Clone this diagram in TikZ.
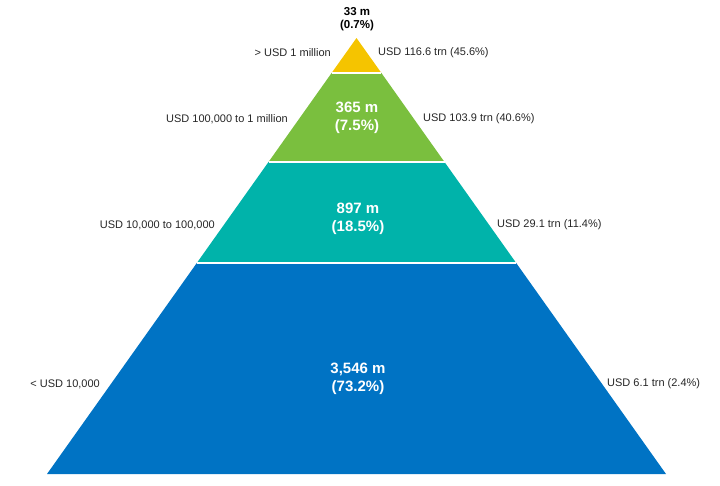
\documentclass[tikz,border=0pt]{standalone}
\usepackage{fontspec}
\setmainfont{Liberation Sans}
\definecolor{tierYellow}{HTML}{F5C400}
\definecolor{tierGreen}{HTML}{7ABF3E}
\definecolor{tierTeal}{HTML}{00B3AA}
\definecolor{tierBlue}{HTML}{0073C4}
\definecolor{labelGray}{HTML}{262626}
\begin{document}
\begin{tikzpicture}[x=1pt,y=-1pt,
  lbl/.style={font=\fontsize{11}{13}\selectfont, text=labelGray, inner sep=0pt},
  num/.style={font=\bfseries\fontsize{15}{18}\selectfont, text=white, align=center, inner sep=0pt},
  sep/.style={white, line width=1.2pt}]
\useasboundingbox (0,0) rectangle (720,485);
% pyramid corners
\coordinate (apex) at (356.5,38);
\coordinate (a1) at (331.6,73);  \coordinate (b1) at (381.4,73);
\coordinate (a2) at (268.5,162); \coordinate (b2) at (444.5,162);
\coordinate (a3) at (196.8,263); \coordinate (b3) at (516.2,263);
\coordinate (a4) at (47,474);    \coordinate (b4) at (666,474);
% tiers
\fill[tierYellow] (apex) -- (b1) -- (a1) -- cycle;
\fill[tierGreen] (a1) -- (b1) -- (b2) -- (a2) -- cycle;
\fill[tierTeal] (a2) -- (b2) -- (b3) -- (a3) -- cycle;
\fill[tierBlue] (a3) -- (b3) -- (b4) -- (a4) -- cycle;
\draw[sep] (a1) -- (b1);
\draw[sep] (a2) -- (b2);
\draw[sep] (a3) -- (b3);
% share of adults
\node[num, text=black, font=\bfseries\fontsize{11.5}{13.5}\selectfont] (n0) at (357,19) {33 m\\(0.7\%)};
\node[num] (n1) at (357,117.5) {365 m\\(7.5\%)};
\node[num] (n2) at (358,219) {897 m\\(18.5\%)};
\node[num] (n3) at (358,379) {3,546 m\\(73.2\%)};
% wealth ranges
\node[lbl, anchor=east] (l0) at (331,53) {> USD 1 million};
\node[lbl, anchor=east] (l1) at (288,119) {USD 100,000 to 1 million};
\node[lbl, anchor=east] (l2) at (215,225) {USD 10,000 to 100,000};
\node[lbl, anchor=east] (l3) at (100,384) {< USD 10,000};
% total wealth
\node[lbl, anchor=west] (r0) at (378,53) {USD 116.6 trn (45.6\%)};
\node[lbl, anchor=west] (r1) at (423,119) {USD 103.9 trn (40.6\%)};
\node[lbl, anchor=west] (r2) at (497,225) {USD 29.1 trn (11.4\%)};
\node[lbl, anchor=west] (r3) at (607,384) {USD 6.1 trn (2.4\%)};
\end{tikzpicture}
\end{document}
